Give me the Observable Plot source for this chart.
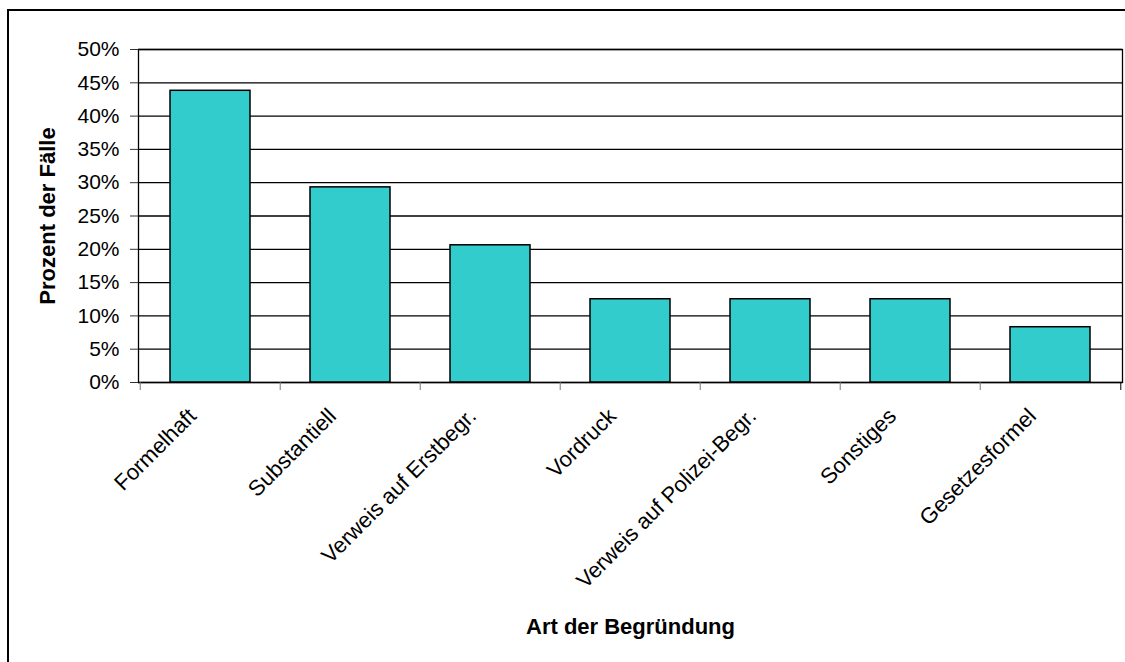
<!DOCTYPE html>
<html><head><meta charset="utf-8">
<script src="https://cdn.jsdelivr.net/npm/d3@7"></script>
<script src="https://cdn.jsdelivr.net/npm/@observablehq/plot@0.6"></script>
<style>
body{margin:0;background:#fff;}
#wrap{position:relative;width:1125px;height:662px;overflow:hidden;}
#border{position:absolute;left:7px;top:9px;width:1200px;height:800px;border-left:2px solid #000;border-top:2px solid #000;}
#chart{position:absolute;left:0;top:0;}
</style>
</head><body>
<div id="wrap"><div id="border"></div><div id="chart"></div></div>
<script>
const categories = ["Formelhaft","Substantiell","Verweis auf Erstbegr.","Vordruck","Verweis auf Polizei-Begr.","Sonstiges","Gesetzesformel"];
const values = [43.8, 29.3, 20.6, 12.5, 12.5, 12.5, 8.3];
const yTicks = [0, 0.05, 0.10, 0.15, 0.20, 0.25, 0.30, 0.35, 0.40, 0.45, 0.50];
const yTitle = "Prozent der Fälle";
const xTitle = "Art der Begründung";

const data = categories.map((c, i) => ({category: c, value: values[i] / 100}));
const step = (1125 - 138 - 3) / categories.length;

const plot = Plot.plot({
  width: 1125, height: 662,
  marginLeft: 138, marginRight: 3, marginTop: 49, marginBottom: 280,
  style: {fontFamily: "'Liberation Sans', Arial, sans-serif", fontSize: "21px", color: "#000", background: "transparent", overflow: "visible"},
  x: {domain: categories, paddingInner: 0.431, paddingOuter: 0.2155},
  y: {domain: [0, 0.5]},
  marks: [
    Plot.gridY(yTicks, {stroke: "#000", strokeOpacity: 1, strokeWidth: 1.3}),
    Plot.barY(data, {x: "category", y: "value", fill: "#33CCCC", stroke: "#000", strokeWidth: 1.5}),
    Plot.frame({stroke: "#000", strokeWidth: 1.3}),
    Plot.axisY({ticks: yTicks, tickFormat: d3.format(".0%"), tickSize: 8, tickPadding: 11, label: null, fontSize: 21, stroke: "#333"}),
    Plot.axisX({tickSize: 8, text: null, dx: -step / 2, stroke: "#777", label: null}),
    Plot.axisX({ticks: [categories[categories.length - 1]], tickSize: 8, text: null, dx: step / 2, stroke: "#000", label: null}),
    Plot.axisX({tickSize: 0, tickRotate: -45, tickPadding: 30, dx: -18, fontSize: 22, label: null}),
    Plot.text([yTitle], {frameAnchor: "left", textAnchor: "middle", rotate: -90, dx: -91, fontWeight: "bold", fontSize: 22}),
    Plot.text([xTitle], {frameAnchor: "bottom", dy: 251, fontWeight: "bold", fontSize: 22})
  ]
});
document.getElementById("chart").appendChild(plot);
</script>
</body></html>
